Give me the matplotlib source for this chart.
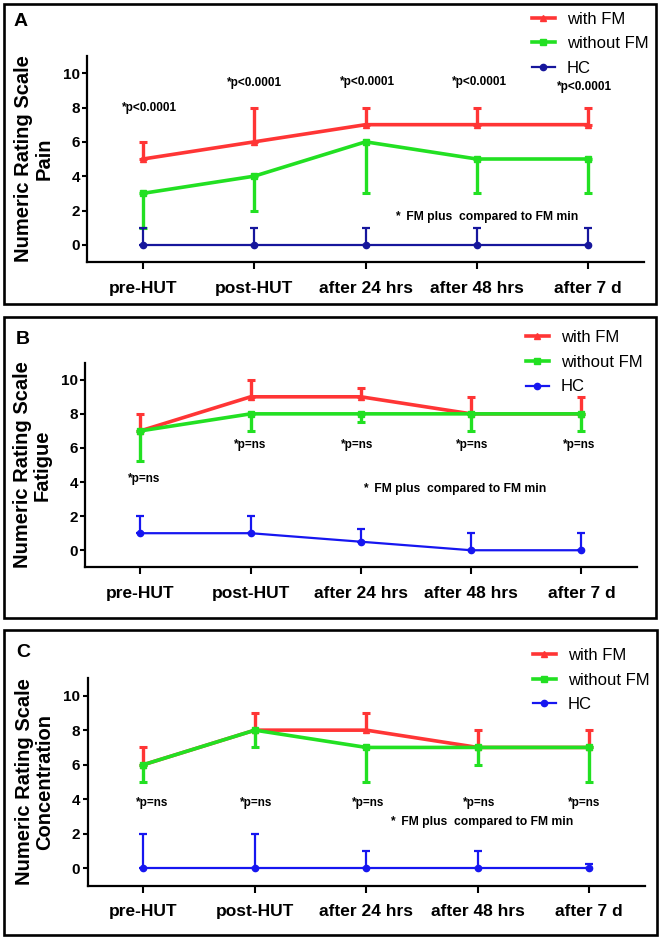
import matplotlib
matplotlib.use("Agg")
import matplotlib.pyplot as plt
from matplotlib.patches import Rectangle
from matplotlib.lines import Line2D

plt.rcParams['font.family'] = ['Liberation Sans', 'DejaVu Sans']

# ---------------- data ----------------
timepoints = ["pre-HUT", "post-HUT", "after 24 hrs", "after 48 hrs", "after 7 d"]
series_names = ["with FM", "without FM", "HC"]

# Panel A: Pain
pain_with = [5, 6, 7, 7, 7]
pain_with_up = [6, 8, 8, 8, 8]
pain_without = [3, 4, 6, 5, 5]
pain_without_low = [1, 2, 3, 3, 3]
pain_hc = [0, 0, 0, 0, 0]
pain_hc_up = [1, 1, 1, 1, 1]
pain_pvals = ["*p<0.0001"] * 5
pain_p_y = [8.0, 9.45, 9.5, 9.5, 9.2]
pain_p_dx = [0.06, 0.0, 0.02, 0.02, -0.03]

# Panel B: Fatigue
fat_with = [7, 9, 9, 8, 8]
fat_with_up = [8, 10, 9.5, 9, 9]
fat_without = [7, 8, 8, 8, 8]
fat_without_low = [5.25, 7, 7.5, 7, 7]
fat_hc = [1, 1, 0.5, 0, 0]
fat_hc_up = [2, 2, 1.25, 1, 1]
fat_pvals = ["*p=ns"] * 5
fat_p_y = [4.15, 6.2, 6.2, 6.2, 6.2]
fat_p_dx = [0.03, 0.0, -0.035, 0.005, -0.02]

# Panel C: Concentration
con_with = [6, 8, 8, 7, 7]
con_with_up = [7, 9, 9, 8, 8]
con_without = [6, 8, 7, 7, 7]
con_without_low = [5, 7, 5, 6, 5]
con_hc = [0, 0, 0, 0, 0]
con_hc_up = [2, 2, 1, 1, 0.25]
con_pvals = ["*p=ns"] * 5
con_p_y = [3.8, 3.8, 3.8, 3.8, 3.8]
con_p_dx = [0.075, 0.01, 0.02, 0.01, -0.05]

note_text = "*  FM plus  compared to FM min"

RED = "#ff3535"
GREEN = "#22e022"

W, H = 661, 939
fig = plt.figure(figsize=(W / 100, H / 100), dpi=100)


def fx(px):
    return px / W


def fy(py):
    return 1 - py / H


def draw_panel(ax, letter, ylabel, with_v, with_up, without_v, without_low,
               hc_v, hc_up, pvals, p_y, p_dx, note_x, note_y, blue,
               box, letter_xy, legend_xy, label_x):
    x = list(range(len(timepoints)))
    # with FM (upper error only)
    up1 = [u - v for u, v in zip(with_up, with_v)]
    ax.errorbar(x, with_v, yerr=[[0] * len(x), up1], color=RED, lw=2.6,
                marker='^', ms=5, elinewidth=2.4, capsize=3.2, capthick=2.2,
                zorder=3)
    # without FM (lower error only)
    lo2 = [v - l for v, l in zip(without_v, without_low)]
    ax.errorbar(x, without_v, yerr=[lo2, [0] * len(x)], color=GREEN, lw=2.6,
                marker='s', ms=4.5, elinewidth=2.4, capsize=3.2, capthick=2.2,
                zorder=4)
    # HC (upper error only)
    up3 = [u - v for u, v in zip(hc_up, hc_v)]
    ax.errorbar(x, hc_v, yerr=[[0] * len(x), up3], color=blue, lw=1.6,
                marker='o', ms=4.5, elinewidth=1.6, capsize=3.2, capthick=1.6,
                zorder=5)

    ax.set_xlim(-0.5, 4.5)
    ax.set_ylim(-1, 11)
    ax.set_xticks(x)
    ax.set_xticklabels(timepoints, fontsize=12.5, fontweight='bold')
    ax.set_yticks([0, 2, 4, 6, 8, 10])
    ax.set_yticklabels([str(v) for v in [0, 2, 4, 6, 8, 10]], fontsize=11,
                       fontweight='bold')
    ax.tick_params(axis='x', length=5, width=1.5, pad=8.5, direction='out')
    ax.tick_params(axis='y', length=3.8, width=1.5, pad=1.5, direction='out')
    for s in ['top', 'right']:
        ax.spines[s].set_visible(False)
    for s in ['left', 'bottom']:
        ax.spines[s].set_linewidth(1.6)

    ax.set_ylabel(ylabel, fontsize=14.5, fontweight='bold', linespacing=1.1)
    ax.yaxis.set_label_coords(label_x, 0.5)

    for xi, lab, yy, dx in zip(x, pvals, p_y, p_dx):
        ax.text(xi + dx, yy, lab, ha='center', va='center', fontsize=8.5,
                fontweight='bold')
    ax.text(note_x, note_y, note_text, ha='center', va='center',
            fontsize=8.7, fontweight='bold')

    # legend
    handles = [Line2D([], [], color=RED, lw=2.6, marker='^', ms=5),
               Line2D([], [], color=GREEN, lw=2.6, marker='s', ms=4.5),
               Line2D([], [], color=blue, lw=1.6, marker='o', ms=4.5)]
    ax.legend(handles, series_names, loc='upper left',
              bbox_to_anchor=(fx(legend_xy[0]), fy(legend_xy[1])),
              bbox_transform=fig.transFigure, frameon=False, fontsize=12,
              handlelength=1.35, handletextpad=0.75, labelspacing=0.58,
              borderpad=0, borderaxespad=0)

    # panel frame
    x0, y0, x1, y1 = box
    fig.patches.append(Rectangle((fx(x0), fy(y1)), fx(x1 - x0), (y1 - y0) / H,
                                 transform=fig.transFigure, fill=False,
                                 lw=1.9, ec='black'))
    fig.text(fx(letter_xy[0]), fy(letter_xy[1]), letter, fontsize=14,
             fontweight='bold', ha='left', va='baseline')


# axes rectangles (left, bottom, width, height) in figure fraction
axA = fig.add_axes([fx(87.3), fy(262), fx(643.8 - 87.3), (262 - 56) / H])
axB = fig.add_axes([fx(85.2), fy(567.3), fx(636.6 - 85.2), (567.3 - 362.7) / H])
axC = fig.add_axes([fx(87.7), fy(885.7), fx(645 - 87.7), (885.7 - 678.3) / H])

draw_panel(axA, "A", "Numeric Rating Scale\nPain", pain_with, pain_with_up,
           pain_without, pain_without_low, pain_hc, pain_hc_up, pain_pvals,
           pain_p_y, pain_p_dx, 3.09, 1.6, "#16169c",
           (3.5, 3.5, 655.5, 304), (14, 25.5), (532, 11.5), -0.06)
draw_panel(axB, "B", "Numeric Rating Scale\nFatigue", fat_with, fat_with_up,
           fat_without, fat_without_low, fat_hc, fat_hc_up, fat_pvals,
           fat_p_y, fat_p_dx, 2.85, 3.6, "#1616f0",
           (4, 317, 655.5, 618), (16, 343.5), (526, 330), -0.06)
draw_panel(axC, "C", "Numeric Rating Scale\nConcentration", con_with,
           con_with_up, con_without, con_without_low, con_hc, con_hc_up,
           con_pvals, con_p_y, con_p_dx, 3.03, 2.7, "#1616f0",
           (4, 630, 657, 935), (16, 657), (533, 648), -0.06)

fig.savefig("out.png", dpi=100)
